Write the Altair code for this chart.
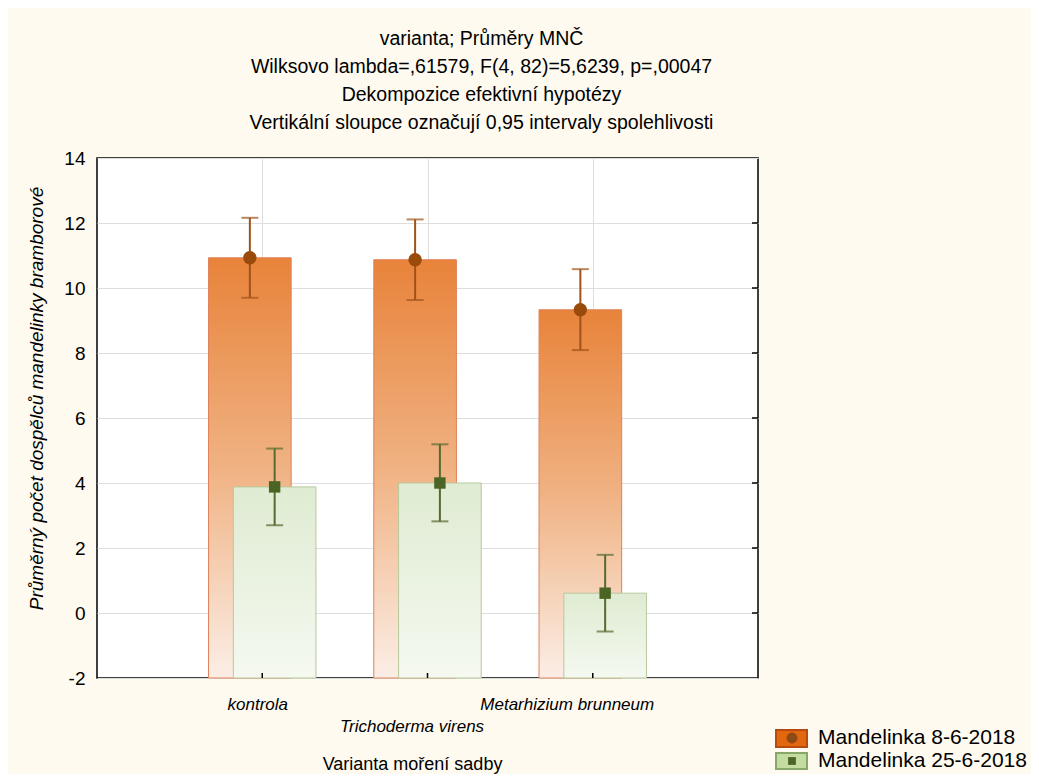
import altair as alt
import pandas as pd

categories = ["kontrola", "Trichoderma virens", "Metarhizium brunneum"]
series = ["Mandelinka 8-6-2018", "Mandelinka 25-6-2018"]
mean_a = [10.93, 10.87, 9.33]
low_a = [9.70, 9.63, 8.09]
high_a = [12.16, 12.11, 10.58]
mean_b = [3.88, 4.00, 0.61]
low_b = [2.70, 2.82, -0.57]
high_b = [5.06, 5.19, 1.79]
y_ticks = [-2, 0, 2, 4, 6, 8, 10, 12, 14]
x_ticks = [1, 2, 3]

title_lines = [
    "varianta; Průměry MNČ",
    "Wilksovo lambda=,61579, F(4, 82)=5,6239, p=,00047",
    "Dekompozice efektivní hypotézy",
    "Vertikální sloupce označují 0,95 intervaly spolehlivosti",
]

FONT = "Liberation Sans"
shift = {series[0]: -0.075, series[1]: 0.075}
half = 0.25

rows = []
for s, m, lo, hi in [(series[0], mean_a, low_a, high_a), (series[1], mean_b, low_b, high_b)]:
    for i, c in enumerate(categories):
        xc = i + 1 + shift[s]
        rows.append(dict(category=c, series=s, x=xc, x0=xc - half, x1=xc + half,
                         mean=m[i], low=lo[i], high=hi[i]))
df = pd.DataFrame(rows)

xs = alt.Scale(domain=[0, 4], nice=False, zero=False)
ys = alt.Scale(domain=[-2, 14], nice=False, zero=False)

label_expr = "datum.value == 1 ? '%s' : datum.value == 2 ? '%s' : '%s'" % tuple(categories)

x_axis = alt.Axis(
    values=x_ticks, labelExpr=label_expr, grid=True, gridColor="#dedede",
    domain=False, ticks=False, labelFont=FONT, labelFontSize=17, labelFontStyle="italic",
    labelColor="#000", labelBaseline="top",
    labelPadding={"condition": {"test": "datum.value == 2", "value": 40}, "value": 18},
    labelOffset={"condition": [{"test": "datum.value == 1", "value": -5},
                               {"test": "datum.value == 2", "value": -16}], "value": -26},
    title="Varianta moření sadby", titleFont=FONT, titleFontSize=18, titleFontWeight="normal",
    titleColor="#000", titleX=315, titleY=77, titleBaseline="top", titleAlign="center",
)
y_axis = alt.Axis(
    values=y_ticks, grid=True, gridColor="#dedede", domain=False, ticks=False,
    labelExpr="'' + datum.value",
    labelFont=FONT, labelFontSize=19, labelColor="#000", labelPadding=12,
    title="Průměrný počet dospělců mandelinky bramborové", titleFont=FONT, titleFontSize=19,
    titleFontStyle="italic", titleFontWeight="normal", titleColor="#000",
    titleX=-61, titleY=240, titleAlign="center", titleBaseline="middle", titleAngle=-90,
)


def X(field):
    return alt.X(field, scale=xs, axis=x_axis)


def Y(field):
    return alt.Y(field, scale=ys, axis=y_axis)


grad_a = alt.Gradient(gradient="linear", x1=0, x2=0, y1=0, y2=1, stops=[
    alt.GradientStop(offset=0, color="#e8833a"),
    alt.GradientStop(offset=0.5, color="#f0b283"),
    alt.GradientStop(offset=1, color="#fbeee6"),
])
grad_b = alt.Gradient(gradient="linear", x1=0, x2=0, y1=0, y2=1, stops=[
    alt.GradientStop(offset=0, color="#dfebd2"),
    alt.GradientStop(offset=1, color="#f5f9f0"),
])

base = alt.Chart(df)

bars_a = base.transform_filter(alt.datum.series == series[0]).mark_bar(
    fill=grad_a, stroke="#e0825a", strokeWidth=1).encode(
    x=X("x0:Q"), x2="x1:Q", y=Y("mean:Q"), y2=alt.datum(-2))
bars_b = base.transform_filter(alt.datum.series == series[1]).mark_bar(
    fill=grad_b, stroke="#b7c99b", strokeWidth=1).encode(
    x=X("x0:Q"), x2="x1:Q", y=Y("mean:Q"), y2=alt.datum(-2))


def errs(s, color, shape, size, pcolor):
    d = base.transform_filter(alt.datum.series == s)
    rule = d.mark_rule(color=color, strokeWidth=2).encode(
        x=X("x:Q"), y=Y("low:Q"), y2="high:Q")
    cap_hi = d.mark_tick(color=color, orient="horizontal", size=17, thickness=2).encode(
        x=X("x:Q"), y=Y("high:Q"))
    cap_lo = d.mark_tick(color=color, orient="horizontal", size=17, thickness=2).encode(
        x=X("x:Q"), y=Y("low:Q"))
    pt = d.mark_point(shape=shape, filled=True, size=size, color=pcolor, opacity=1).encode(
        x=X("x:Q"), y=Y("mean:Q"))
    return [rule, cap_hi, cap_lo, pt]


err_a = errs(series[0], "#a0521a", "circle", 180, "#9a4a0a")
err_b = errs(series[1], "#556b2f", "square", 130, "#4a6424")

# inward ticks on the right and bottom frame
ytick_df = pd.DataFrame({"v": y_ticks[1:-1]})
xtick_df = pd.DataFrame({"v": x_ticks})
right_ticks = alt.Chart(ytick_df).mark_rule(color="#000", strokeWidth=1.5).encode(
    x=alt.value(655), x2=alt.value(661), y=Y("v:Q"))
bottom_ticks = alt.Chart(xtick_df).mark_rule(color="#000", strokeWidth=1.5).encode(
    x=X("v:Q"), y=alt.value(515), y2=alt.value(520))

# legend
leg_df = pd.DataFrame({"series": series})
leg = alt.Chart(leg_df)
leg_layers = []
leg_style = [
    ("#e3670f", "#b84a10", "circle", 120, "#8e4a14", 572, 589, 580),
    ("#c4dba2", "#88a86a", "square", 60, "#4b6526", 595, 611, 603),
]
for s, (fill, stroke, shp, sz, pc, yt, yb, yc) in zip(series, leg_style):
    f = leg.transform_filter(alt.datum.series == s)
    leg_layers.append(f.mark_rect(fill=fill, stroke=stroke, strokeWidth=2).encode(
        x=alt.value(679), x2=alt.value(710), y=alt.value(yt), y2=alt.value(yb)))
    leg_layers.append(f.mark_point(shape=shp, filled=True, size=sz, color=pc, opacity=1).encode(
        x=alt.value(695), y=alt.value(yc)))
    leg_layers.append(f.mark_text(align="left", baseline="middle", font=FONT, fontSize=21,
                                  color="#000").encode(
        x=alt.value(721), y=alt.value(yc), text="series:N"))

chart = alt.layer(bars_a, bars_b, *err_a, *err_b, right_ticks, bottom_ticks, *leg_layers).properties(
    width=661, height=520,
    title=alt.TitleParams(text=title_lines, font=FONT, fontSize=19.5, fontWeight="normal",
                          color="#000", lineHeight=28, anchor="middle", dx=54, offset=16),
    background="#fefaef",
    padding={"left": 89, "top": 150, "right": 273, "bottom": 96},
    autosize=alt.AutoSizeParams(type="none"),
).configure_view(fill="white", stroke="#000", strokeWidth=1.5)

chart.save("out.html", embed_options={"renderer": "svg", "actions": False})
